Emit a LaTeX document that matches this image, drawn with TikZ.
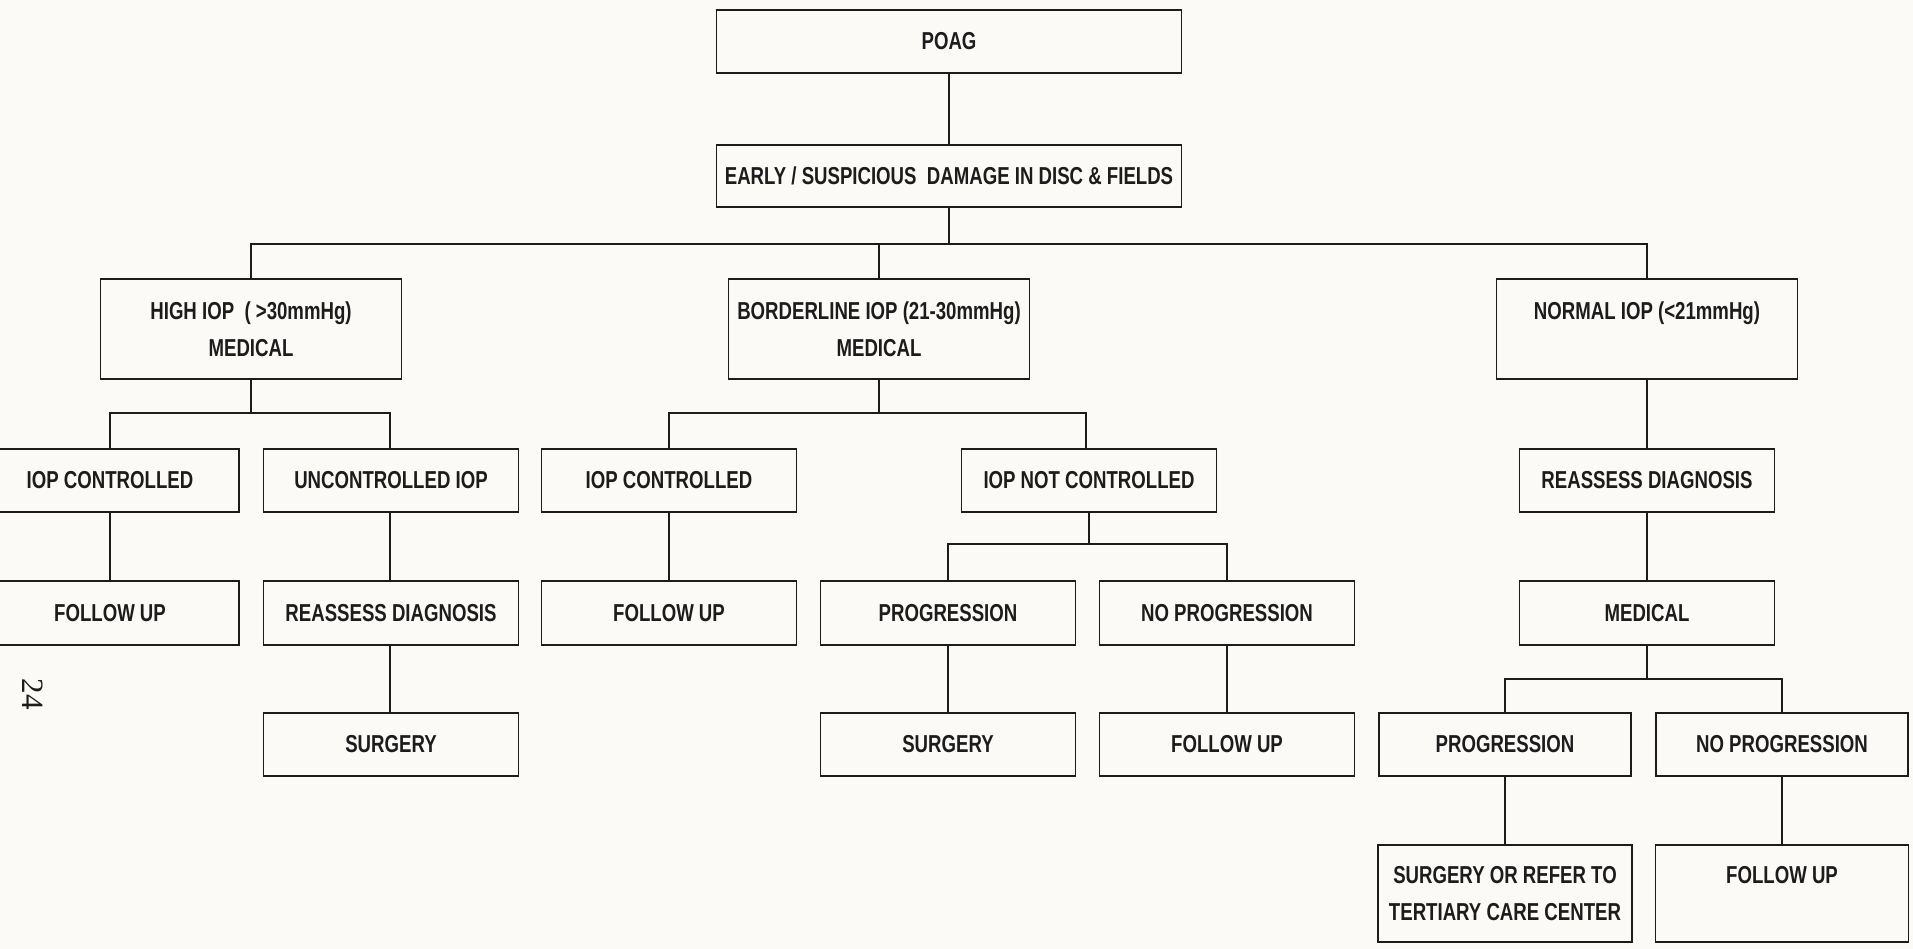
\documentclass[tikz,border=0pt]{standalone}
\usepackage{fontspec}
\newfontfamily\boxfont{Liberation Sans}[FakeStretch=0.76]
\newfontfamily\pgfont{Liberation Serif}
\definecolor{ink}{RGB}{28,28,28}
\definecolor{bg}{RGB}{251,250,247}
\begin{document}
\begin{tikzpicture}[x=1pt,y=-1pt,
  box/.style={draw=ink, line width=1.8pt, minimum width=255pt, minimum height=63pt,
    inner sep=0pt, align=center, text=ink,
    font=\boxfont\bfseries\fontsize{24.5}{37}\selectfont},
  tall/.style={minimum height=100pt, minimum width=301pt},
  link/.style={draw=ink, line width=2pt, line cap=rect}]
\fill[bg] (0,0) rectangle (1913,949);
\useasboundingbox (0,0) rectangle (1913,949);
\clip (0,0) rectangle (1913,949);
% level 0-1
\node[box, minimum width=465pt] (poag) at (949,41.5) {POAG};
\node[box, minimum width=465pt, minimum height=62pt] (early) at (949,176) {EARLY / SUSPICIOUS\ \ DAMAGE IN DISC \& FIELDS};
% level 2
\node[box, tall] (high) at (251,329) {HIGH IOP\ \ ( >30mmHg)\\MEDICAL};
\node[box, tall] (border) at (879,329) {BORDERLINE IOP (21-30mmHg)\\MEDICAL};
\node[box, tall] (normal) at (1647,329) {NORMAL IOP (<21mmHg)\\\mbox{}};
% level 3
\node[box, minimum width=258pt] (iopcl) at (110,480.5) {IOP CONTROLLED};
\node[box] (unc) at (391,480.5) {UNCONTROLLED IOP};
\node[box] (iopcm) at (669,480.5) {IOP CONTROLLED};
\node[box] (iopnc) at (1089,480.5) {IOP NOT CONTROLLED};
\node[box] (reassr) at (1647,480.5) {REASSESS DIAGNOSIS};
% level 4
\node[box, minimum width=258pt, minimum height=64pt] (ful) at (110,613) {FOLLOW UP};
\node[box, minimum height=64pt] (reass) at (391,613) {REASSESS DIAGNOSIS};
\node[box, minimum height=64pt] (fum) at (669,613) {FOLLOW UP};
\node[box, minimum height=64pt] (progm) at (948,613) {PROGRESSION};
\node[box, minimum height=64pt] (noprogm) at (1227,613) {NO PROGRESSION};
\node[box, minimum height=64pt] (medr) at (1647,613) {MEDICAL};
% level 5
\node[box] (surgl) at (391,744.5) {SURGERY};
\node[box] (surgm) at (948,744.5) {SURGERY};
\node[box] (fum2) at (1227,744.5) {FOLLOW UP};
\node[box, minimum width=252pt] (progr) at (1505,744.5) {PROGRESSION};
\node[box, minimum width=252pt] (noprogr) at (1782,744.5) {NO PROGRESSION};
% level 6
\node[box, minimum width=254pt, minimum height=97pt] (sort) at (1505,893.5) {SURGERY OR REFER TO\\TERTIARY CARE CENTER};
\node[box, minimum width=253pt, minimum height=97pt] (fur) at (1782,893.5) {FOLLOW UP\\\mbox{}};
% page number
\node[rotate=-90, text=ink, font=\pgfont\fontsize{31}{31}\selectfont] (pg) at (33,694) {24};
% connectors
\coordinate (b1) at (0,244);
\coordinate (b2) at (0,413);
\coordinate (b3) at (0,544);
\coordinate (b4) at (0,679);
\draw[link] (poag.south) -- (early.north);
\draw[link] (early.south) -- (early.south |- b1);
\draw[link] (high.north) -- (high.north |- b1) -- (normal.north |- b1) -- (normal.north);
\draw[link] (border.north) -- (border.north |- b1);
\draw[link] (high.south) -- (high.south |- b2);
\draw[link] (iopcl.north) -- (iopcl.north |- b2) -- ([xshift=-1pt]unc.north |- b2) -- ([xshift=-1pt]unc.north);
\draw[link] (border.south) -- (border.south |- b2);
\draw[link] (iopcm.north) -- (iopcm.north |- b2) -- ([xshift=-3pt]iopnc.north |- b2) -- ([xshift=-3pt]iopnc.north);
\draw[link] (normal.south) -- (reassr.north);
\draw[link] (iopcl.south) -- (ful.north);
\draw[link] ([xshift=-1pt]unc.south) -- ([xshift=-1pt]reass.north);
\draw[link] (iopcm.south) -- (fum.north);
\draw[link] (iopnc.south) -- (iopnc.south |- b3);
\draw[link] (progm.north) -- (progm.north |- b3) -- (noprogm.north |- b3) -- (noprogm.north);
\draw[link] (reassr.south) -- (medr.north);
\draw[link] ([xshift=-1pt]reass.south) -- ([xshift=-1pt]surgl.north);
\draw[link] (progm.south) -- (surgm.north);
\draw[link] (noprogm.south) -- (fum2.north);
\draw[link] (medr.south) -- (medr.south |- b4);
\draw[link] (progr.north) -- (progr.north |- b4) -- (noprogr.north |- b4) -- (noprogr.north);
\draw[link] (progr.south) -- (sort.north);
\draw[link] (noprogr.south) -- (fur.north);
\end{tikzpicture}
\end{document}
